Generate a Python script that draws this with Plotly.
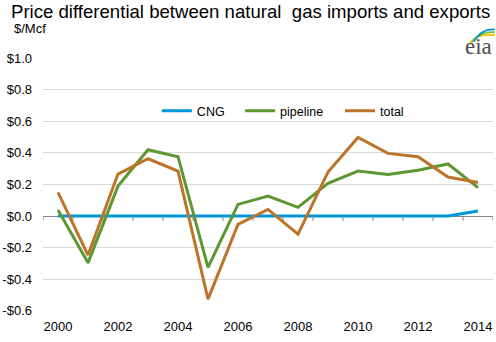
import plotly.graph_objects as go

years = list(range(2000, 2015))
cng = [0.0, 0.0, 0.0, 0.0, 0.0, 0.0, 0.0, 0.0, 0.0, 0.0, 0.0, 0.0, 0.0, 0.0, 0.032]
pipeline = [0.038, -0.296, 0.19, 0.42, 0.376, -0.325, 0.074, 0.127, 0.055, 0.207,
            0.285, 0.264, 0.29, 0.33, 0.18]
total = [0.15, -0.247, 0.266, 0.363, 0.285, -0.526, -0.053, 0.042, -0.114, 0.279,
         0.498, 0.397, 0.376, 0.247, 0.213]
ytick_vals = [-0.6, -0.4, -0.2, 0.0, 0.2, 0.4, 0.6, 0.8, 1.0]
ytick_text = ["-$0.6", "-$0.4", "-$0.2", "$0.0", "$0.2", "$0.4", "$0.6", "$0.8", "$1.0"]
xtick_vals = [2000, 2002, 2004, 2006, 2008, 2010, 2012, 2014]

FONT = "Liberation Sans, Arial, sans-serif"

series = [("CNG", cng, "#0096d7", "legend"),
          ("pipeline", pipeline, "#5d9732", "legend2"),
          ("total", total, "#bd732a", "legend3")]

fig = go.Figure()
for name, vals, color, leg in series:
    fig.add_trace(go.Scatter(x=years, y=vals, mode="lines", name=name,
                             legend=leg, line=dict(color=color, width=3)))

# short tick marks hanging below the zero line at category boundaries
shapes = []
for b in range(years[0], years[-1] + 2):
    xb = b - 0.5
    shapes.append(dict(type="line", xref="x", yref="y",
                       x0=xb, x1=xb, y0=0, y1=-0.03,
                       line=dict(color="#868686", width=1)))

# eia logo: three swooping arcs over the lettering
arc_colors = ["#f2c400", "#7cb83e", "#0096d7"]
for i, c in enumerate(arc_colors):
    d = i * 0.008
    shapes.append(dict(type="path", xref="paper", yref="paper",
                       path=(f"M {0.948 + d*0.6:.4f} {1.060 + d*0.3:.4f} "
                             f"Q {0.968 + d*0.5:.4f} {1.100 + d*1.2:.4f} "
                             f"1.004 {1.090 + d*1.4:.4f}"),
                       line=dict(color=c, width=1.8)))

leg_common = dict(orientation="h", xanchor="left", yanchor="middle", y=0.79,
                  font=dict(family=FONT, size=12.5, color="#000000"),
                  bgcolor="rgba(0,0,0,0)", itemwidth=30)

fig.update_layout(
    width=496, height=342,
    margin=dict(l=43, r=3, t=58, b=31),
    paper_bgcolor="white", plot_bgcolor="white",
    showlegend=True,
    legend=dict(x=0.253, **leg_common),
    legend2=dict(x=0.438, **leg_common),
    legend3=dict(x=0.660, **leg_common),
    xaxis=dict(range=[1999.5, 2014.5], tickvals=xtick_vals,
               ticktext=[str(v) for v in xtick_vals],
               showgrid=False, zeroline=False, showline=False, ticks="",
               ticklabelstandoff=6,
               tickfont=dict(family=FONT, size=13, color="#000000")),
    yaxis=dict(range=[-0.601, 1.001], tickvals=ytick_vals, ticktext=ytick_text,
               showgrid=True, gridcolor="#d9d9d9", gridwidth=1,
               zeroline=True, zerolinecolor="#868686", zerolinewidth=1,
               showline=False, ticks="", ticklabelstandoff=10,
               tickfont=dict(family=FONT, size=13, color="#000000")),
    shapes=shapes,
    annotations=[
        dict(text="Price differential between natural  gas imports and exports",
             xref="paper", yref="paper", x=-34/450, y=1 + 46/253,
             xanchor="left", yanchor="middle", showarrow=False,
             font=dict(family=FONT, size=18.6, color="#000000")),
        dict(text="$/Mcf", xref="paper", yref="paper", x=-31/450, y=1 + 30/253,
             xanchor="left", yanchor="middle", showarrow=False,
             font=dict(family=FONT, size=13, color="#000000")),
        dict(text="eia", xref="paper", yref="paper", x=1.003, y=1 + 12/253,
             xanchor="right", yanchor="middle", showarrow=False,
             font=dict(family="Liberation Serif, serif", size=23, color="#4d4d4d")),
    ],
)

fig.write_html("out.html")
